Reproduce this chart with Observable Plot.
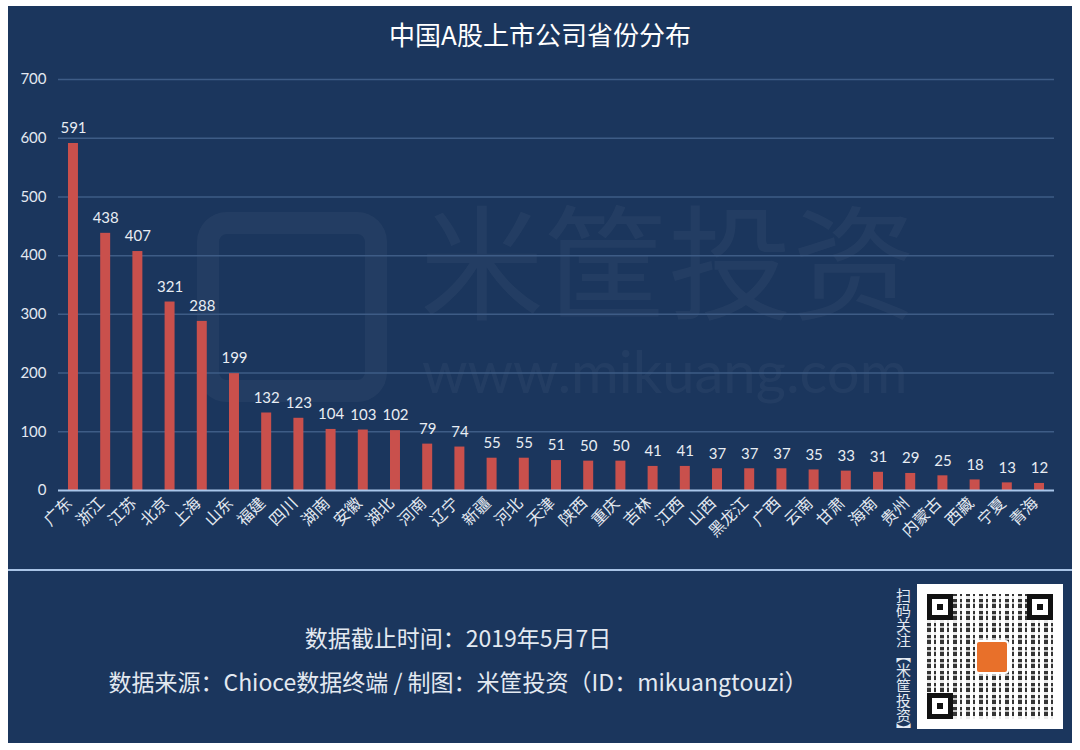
<!DOCTYPE html>
<html>
<head>
<meta charset="utf-8">
<script src="https://cdn.jsdelivr.net/npm/d3@7"></script>
<script src="https://cdn.jsdelivr.net/npm/@observablehq/plot@0.6"></script>
<style>
  html, body { margin: 0; padding: 0; background: #ffffff; }
  #page { position: relative; width: 1080px; height: 750px; overflow: hidden; background: #ffffff;
          font-family: "Noto Sans CJK SC", "Noto Sans", sans-serif; }
  #panel { position: absolute; left: 8px; top: 6px; width: 1064px; height: 737px; background: #1b365d; }
  #sep { position: absolute; left: 8px; top: 569px; width: 1064px; height: 2px; background: #a9c4e6; }
  #title { position: absolute; left: 8px; top: 15px; width: 1064px; text-align: center; color: #ffffff;
           font-size: 26px; line-height: 38px; }
  .wm { position: absolute; color: rgba(255,255,255,0.04); white-space: nowrap; }
  #wmlogo { position: absolute; left: 197px; top: 212px; width: 190px; height: 190px; border-radius: 30px;
            border: 22px solid rgba(255,255,255,0.04); box-sizing: border-box; }
  #chart { position: absolute; left: 8px; top: 60px; }
  .foot { position: absolute; left: 8px; width: 900px; text-align: center; color: #e3e9f1; font-size: 23px; line-height: 32px; }
  #qr { position: absolute; left: 917px; top: 584px; width: 146px; height: 145px; background: #ffffff; }
  #qrinner { position: absolute; left: 10px; top: 10px; width: 126px; height: 125px;
             background:
               repeating-linear-gradient(90deg, #111 0 4px, #fff 4px 7px, #111 7px 9px, #fff 9px 13px),
               #fff; opacity: 0.85; }
  #qrmask { position: absolute; left: 10px; top: 10px; width: 126px; height: 125px;
            background: repeating-linear-gradient(0deg, rgba(255,255,255,0.9) 0 3px, rgba(255,255,255,0) 3px 7px, rgba(255,255,255,0.7) 7px 9px, rgba(255,255,255,0) 9px 12px); }
  .finder { position: absolute; width: 26px; height: 26px; border: 5px solid #111; background: #fff; box-sizing: border-box; }
  .finder::after { content: ""; position: absolute; left: 5px; top: 5px; width: 6px; height: 6px; background: #111; }
  #qrlogo { position: absolute; left: 58px; top: 56px; width: 30px; height: 30px; background: #e8702a; border-radius: 4px; border: 2px solid #fff; }
  #qrtext { position: absolute; left: 891px; top: 588px; width: 20px; color: #e3e9f1; font-size: 15px;
            line-height: 16px; writing-mode: vertical-rl; letter-spacing: 0px; }
</style>
</head>
<body>
<div id="page">
  <div id="panel"></div>
  <div id="wmlogo"></div>
  <div class="wm" style="left:420px; top:197px; font-size:124px; line-height:130px; font-family:Lato, 'Noto Sans CJK SC', sans-serif;">米筐投资</div>
  <div class="wm" style="left:422px; top:341px; font-size:58px; line-height:60px; font-family:Lato, sans-serif;">www.mikuang.com</div>
  <div id="title">中国A股上市公司省份分布</div>
  <div id="chart"></div>
  <div id="sep"></div>
  <div class="foot" style="top:621px;">数据截止时间：2019年5月7日</div>
  <div class="foot" style="top:665px;">数据来源：Chioce数据终端 / 制图：米筐投资（ID：mikuangtouzi）</div>
  <div id="qrtext">扫码关注【米筐投资】</div>
  <div id="qr">
    <div id="qrinner"></div>
    <div id="qrmask"></div>
    <div class="finder" style="left:10px; top:10px;"></div>
    <div class="finder" style="left:110px; top:10px;"></div>
    <div class="finder" style="left:10px; top:109px;"></div>
    <div id="qrlogo"></div>
  </div>
</div>
<script>
const provinces = ["广东","浙江","江苏","北京","上海","山东","福建","四川","湖南","安徽","湖北","河南","辽宁","新疆","河北","天津","陕西","重庆","吉林","江西","山西","黑龙江","广西","云南","甘肃","海南","贵州","内蒙古","西藏","宁夏","青海"];
const counts = [591,438,407,321,288,199,132,123,104,103,102,79,74,55,55,51,50,50,41,41,37,37,37,35,33,31,29,25,18,13,12];
const yTicks = [0,100,200,300,400,500,600,700];

const data = provinces.map((p, i) => ({province: p, count: counts[i]}));

const chart = Plot.plot({
  width: 1064,
  height: 508,
  marginLeft: 50,
  marginRight: 18,
  marginTop: 19,
  marginBottom: 78,
  style: {background: "transparent", color: "#e3e9f1", fontFamily: "Lato, 'Noto Sans CJK SC', sans-serif"},
  x: {type: "band", domain: provinces, paddingInner: 0.69, paddingOuter: 0.31, round: false, label: null},
  y: {domain: [0, 700], ticks: yTicks, label: null},
  marks: [
    Plot.ruleY(yTicks.filter(d => d > 0), {stroke: "#3e5c86", strokeWidth: 1.5}),
    Plot.barY(data, {x: "province", y: "count", fill: "#c9504c"}),
    Plot.ruleY([0], {stroke: "#a9c6ea", strokeWidth: 2}),
    Plot.text(data, {x: "province", y: "count", text: d => String(d.count), dy: -15, fill: "#e8edf3", fontSize: 15, fontFamily: "Lato, sans-serif"}),
    Plot.axisY({ticks: yTicks, tickSize: 0, tickPadding: 12, fontSize: 15, fill: "#e3e9f1", fontFamily: "Lato, sans-serif", label: null}),
    Plot.axisX({tickRotate: -45, tickSize: 0, tickPadding: 10, dx: -4, fontSize: 16, fill: "#e3e9f1", fontFamily: "'Noto Sans CJK SC', sans-serif", label: null})
  ]
});
document.getElementById("chart").appendChild(chart);
</script>
</body>
</html>
